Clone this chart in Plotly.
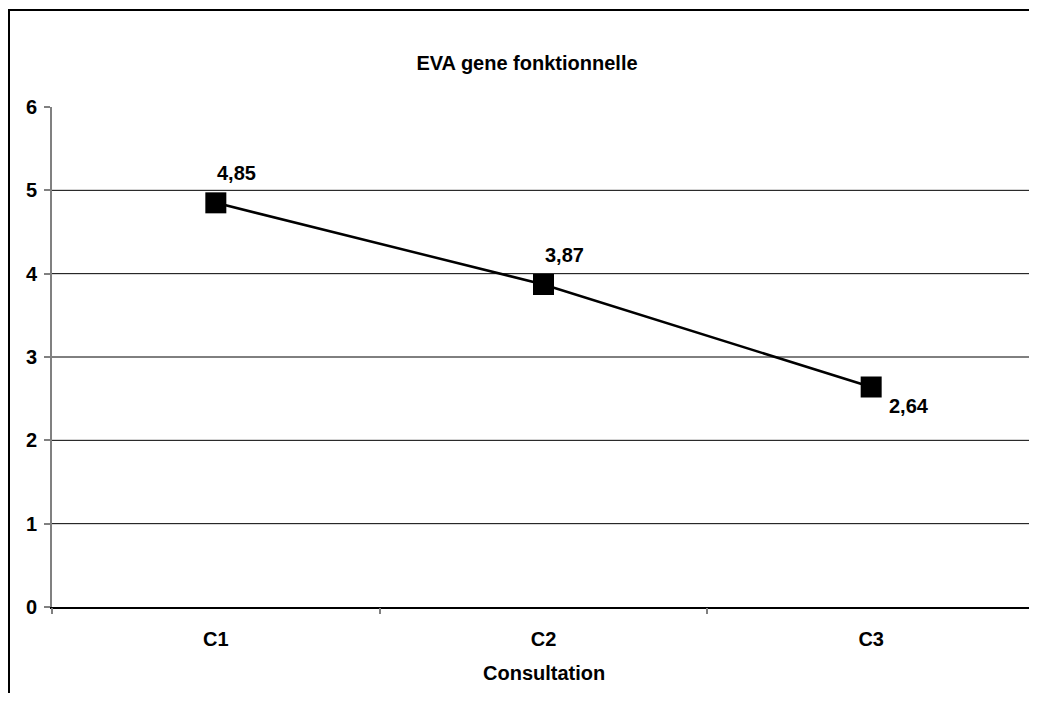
import plotly.graph_objects as go

categories = ["C1", "C2", "C3"]
values = [4.85, 3.87, 2.64]
label_texts = ["4,85", "3,87", "2,64"]
label_pos = ["above", "above", "below"]
y_ticks = [0, 1, 2, 3, 4, 5, 6]
grid_vals = [1, 2, 3, 4, 5]
boundaries = [-0.5, 0.5, 1.5, 2.5]

# page has an 8px body margin; figure coords = page coords - 8
# figure kept small enough to avoid scrollbars
W, H = 1021, 685
L, R, T, B = 44, 0, 99, 86
pw, ph = W - L - R, H - T - B
cat_px = 983 / 3.0                      # pixel width of one category in the reference
x_range = [-0.5, -0.5 + pw / cat_px]    # same scale, right edge cut by the window

FONT = "Liberation Sans, Arial, sans-serif"
font = dict(family=FONT, size=20, color="black")

fig = go.Figure()
fig.add_trace(go.Scatter(
    x=[0, 1, 2], y=values, mode="lines+markers",
    line=dict(color="black", width=2.5),
    marker=dict(symbol="square", size=21, color="black"),
    hoverinfo="skip", showlegend=False,
))
fig.add_trace(go.Scatter(x=[0], y=[None], xaxis="x2", showlegend=False, hoverinfo="skip"))

for i, (v, t, p) in enumerate(zip(values, label_texts, label_pos)):
    fig.add_annotation(x=i, y=v, text="<b>%s</b>" % t, showarrow=False,
                       xanchor="center", yanchor="middle",
                       xshift=21 if p == "above" else 38,
                       yshift=30 if p == "above" else -19,
                       font=font)

# x axis title
fig.add_annotation(x=(544 - 8 - L) / pw, y=(H - B - (673 - 8)) / ph, xref="paper", yref="paper",
                   text="<b>Consultation</b>", showarrow=False,
                   xanchor="center", yanchor="middle", font=font)

shapes = []
for g in grid_vals:
    shapes.append(dict(type="line", xref="paper", yref="y", x0=0, x1=1, y0=g, y1=g,
                       line=dict(color="black", width=1), layer="below"))
# outer chart border (left and top sides visible in the window)
bx0 = (1 - L) / pw
by1 = (H - B - 2) / ph
shapes.append(dict(type="path", xref="paper", yref="paper",
                   path="M %f,%f L %f,%f L %f,%f" % (bx0, -0.5, bx0, by1, 1.2, by1),
                   line=dict(color="black", width=2), layer="above"))

fig.update_layout(
    width=W, height=H,
    margin=dict(l=L, r=R, t=T, b=B),
    paper_bgcolor="white", plot_bgcolor="white",
    title=dict(text="<b>EVA gene fonktionnelle</b>", x=(527 - 8) / W, xanchor="center",
               xref="container", yref="container",
               y=1 - (63 - 8) / H, yanchor="middle", font=font),
    shapes=shapes,
    xaxis=dict(range=x_range, tickvals=[0, 1, 2], ticktext=["<b>%s</b>" % c for c in categories],
               showgrid=False, zeroline=False, showline=True, linecolor="black", linewidth=1.5,
               ticks="", tickfont=font, ticklabelstandoff=13),
    xaxis2=dict(overlaying="x", range=x_range, tickvals=boundaries,
                showticklabels=False, ticks="outside", ticklen=6, tickcolor="#808080", tickwidth=1.5,
                showgrid=False, zeroline=False, showline=False, anchor="y", side="bottom"),
    yaxis=dict(range=[0, 6], tickvals=y_ticks, ticktext=["<b>%d</b>" % v for v in y_ticks],
               showgrid=False, zeroline=False, showline=True, linecolor="#808080", linewidth=2,
               ticks="outside", ticklen=6, tickcolor="#808080", tickwidth=1.5, tickfont=font,
               ticklabelstandoff=3),
)

fig.write_html("out.html")
